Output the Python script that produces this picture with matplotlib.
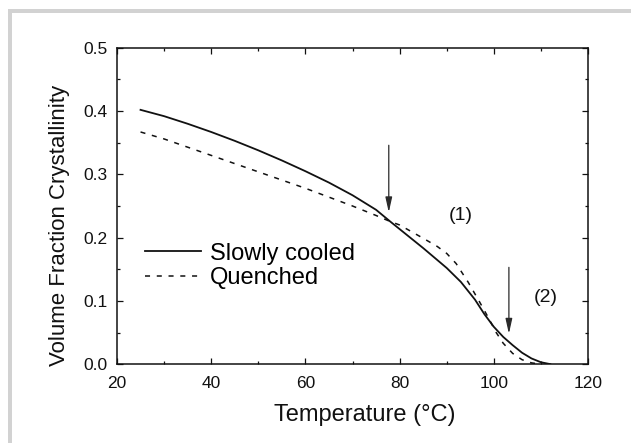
import numpy as np
import matplotlib.pyplot as plt
from matplotlib.patches import Rectangle

plt.rcParams['font.family'] = ['Liberation Sans', 'DejaVu Sans']

# Slowly cooled sample
temp_slow = [25, 30, 35, 40, 45, 50, 55, 60, 65, 70, 75, 78, 80, 85, 90, 93,
             96, 98, 100, 102, 104, 106, 108, 110, 112]
frac_slow = [0.402, 0.392, 0.380, 0.367, 0.353, 0.338, 0.322, 0.305, 0.287,
             0.267, 0.244, 0.2255, 0.2135, 0.1835, 0.152, 0.130, 0.102, 0.079,
             0.059, 0.043, 0.030, 0.018, 0.009, 0.003, 0.0]

# Quenched sample
temp_quench = [25, 30, 35, 40, 45, 50, 55, 60, 65, 70, 75, 78, 80, 85, 88, 90,
               92, 94.6, 97, 98.8, 100.5, 102, 104, 106, 108, 110]
frac_quench = [0.367, 0.356, 0.343, 0.330, 0.317, 0.304, 0.291, 0.278, 0.264,
               0.250, 0.235, 0.2255, 0.220, 0.199, 0.186, 0.175, 0.159, 0.129,
               0.098, 0.074, 0.050, 0.033, 0.017, 0.007, 0.002, 0.0]

# Arrows: (x, y_tail, y_tip) and region labels
arrows = [(77.7, 0.346, 0.240), (103.2, 0.153, 0.048)]
region_labels = ["(1)", "(2)"]
region_pos = [(93.0, 0.235), (111.0, 0.105)]

fig = plt.figure(figsize=(6.31, 4.43), dpi=100)
ax = fig.add_axes([0.1854, 0.178, 0.7465, 0.714])

# grey frame remnants along top and left edges (pixel coords)
W, H = 631, 443
fig.add_artist(Rectangle((8 / W, 1 - 13 / H), 1 - 8 / W, 4 / H, transform=fig.transFigure,
                         color='#d2d2d2', lw=0))
fig.add_artist(Rectangle((8 / W, 0), 4 / W, 1 - 9 / H, transform=fig.transFigure,
                         color='#d2d2d2', lw=0))

ink = '#111111'
ax.plot(temp_slow, frac_slow, color=ink, lw=1.3, label='Slowly cooled')
ax.plot(temp_quench, frac_quench, color=ink, lw=1.1,
        linestyle=(0, (3.3, 4.4)), label='Quenched')

for (x, y0, y1) in arrows:
    ax.annotate('', xy=(x, y1), xytext=(x, y0),
                arrowprops=dict(arrowstyle='-|>,head_length=0.9,head_width=0.2',
                                color='#2a2a2a', lw=0.9, shrinkA=0, shrinkB=0))

for lab, (x, y) in zip(region_labels, region_pos):
    ax.text(x, y, lab, ha='center', va='center', fontsize=14, color=ink)

ax.set_xlim(20, 120)
ax.set_ylim(0, 0.5)
ax.set_xticks([20, 40, 60, 80, 100, 120])
ax.set_xticks([30, 50, 70, 90, 110], minor=True)
ax.set_yticks([0.0, 0.1, 0.2, 0.3, 0.4, 0.5])
ax.set_yticks([0.05, 0.15, 0.25, 0.35, 0.45], minor=True)
ax.yaxis.set_major_formatter(plt.FormatStrFormatter('%.1f'))

ax.tick_params(which='both', direction='in', top=True, right=True,
               labelsize=12.5, colors=ink, width=0.9)
ax.tick_params(axis='x', which='both', pad=8.5)
ax.tick_params(axis='y', which='both', pad=7)
ax.tick_params(which='major', length=4.5)
ax.tick_params(which='minor', length=2.5)
for s in ax.spines.values():
    s.set_linewidth(1.1)
    s.set_color(ink)

ax.set_xlabel('Temperature (°C)', fontsize=17, color=ink)
ax.set_ylabel('Volume Fraction Crystallinity', fontsize=16, color=ink)
ax.xaxis.set_label_coords(0.525, -0.125)
ax.yaxis.set_label_coords(-0.10, 0.44)

ax.legend(loc='center left', bbox_to_anchor=(0.059, 0.311), frameon=False,
          fontsize=17, handlelength=2.4, handletextpad=0.35, labelspacing=0.1,
          borderpad=0, borderaxespad=0)

fig.savefig('out.png', dpi=100)
